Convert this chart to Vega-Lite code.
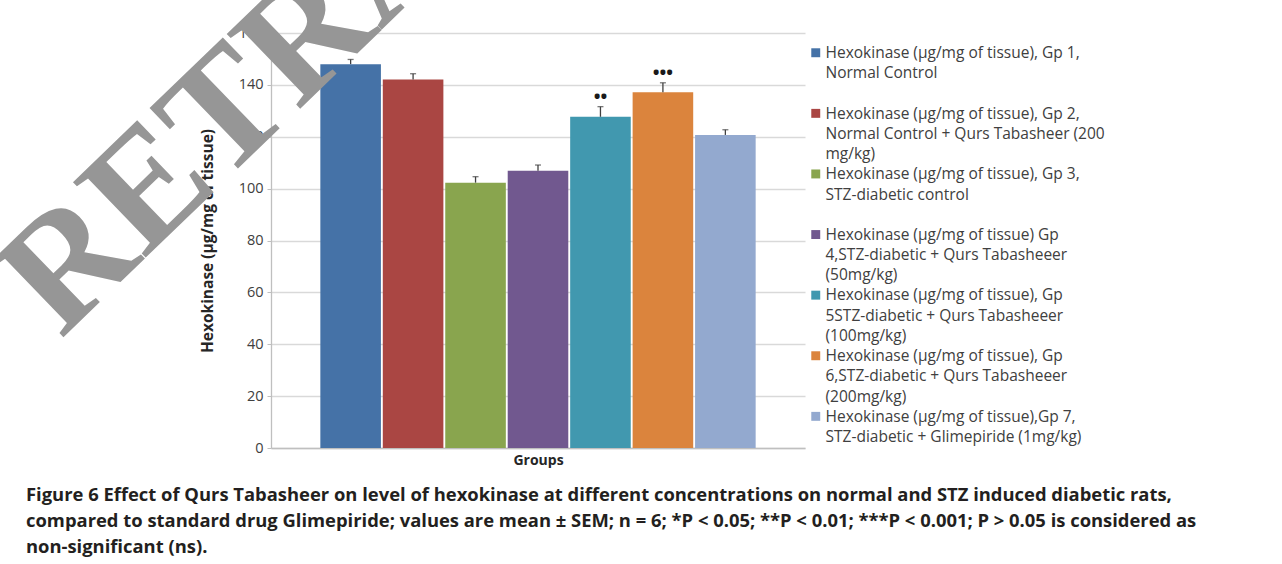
{
  "$schema": "https://vega.github.io/schema/vega-lite/v6.json",
  "autosize": {"type": "none"},
  "width": 534,
  "height": 415,
  "padding": {"left": 271, "top": 33, "right": 477, "bottom": 116},
  "background": "white",
  "config": {
    "view": {"stroke": null},
    "font": "Open Sans",
    "style": {"guide-label": {"lineHeight": 20.3, "dy": -6.7}}
  },
  "title": {
    "text": [
      "Figure 6 Effect of Qurs Tabasheer on level of hexokinase at different concentrations on normal and STZ induced diabetic rats,",
      "compared to standard drug Glimepiride; values are mean ± SEM; n = 6; *P < 0.05; **P < 0.01; ***P < 0.001; P > 0.05 is considered as",
      "non-significant (ns)."
    ],
    "orient": "bottom",
    "anchor": "start",
    "frame": "group",
    "dx": -245,
    "offset": 19,
    "font": "Open Sans",
    "fontSize": 18.4,
    "fontWeight": "bold",
    "color": "#231f20",
    "lineHeight": 26
  },
  "data": {
    "values": [
      {"group": "Gp 1", "label": "Hexokinase (µg/mg of tissue), Gp 1,|Normal Control|", "value": 148.0, "upper": 149.8, "sig": ""},
      {"group": "Gp 2", "label": "Hexokinase (µg/mg of tissue), Gp 2,|Normal Control + Qurs Tabasheer (200|mg/kg)", "value": 142.1, "upper": 144.3, "sig": ""},
      {"group": "Gp 3", "label": "Hexokinase (µg/mg of tissue), Gp 3,|STZ-diabetic control|", "value": 102.3, "upper": 104.6, "sig": ""},
      {"group": "Gp 4", "label": "Hexokinase (µg/mg of tissue) Gp|4,STZ-diabetic + Qurs Tabasheeer|(50mg/kg)", "value": 106.9, "upper": 109.1, "sig": ""},
      {"group": "Gp 5", "label": "Hexokinase (µg/mg of tissue), Gp|5STZ-diabetic + Qurs Tabasheeer|(100mg/kg)", "value": 127.7, "upper": 131.6, "sig": "••"},
      {"group": "Gp 6", "label": "Hexokinase (µg/mg of tissue), Gp|6,STZ-diabetic + Qurs Tabasheeer|(200mg/kg)", "value": 137.2, "upper": 140.8, "sig": "•••"},
      {"group": "Gp 7", "label": "Hexokinase (µg/mg of tissue),Gp 7,|STZ-diabetic + Glimepiride (1mg/kg)|", "value": 120.7, "upper": 122.7, "sig": ""}
    ]
  },
  "encoding": {
    "x": {
      "field": "group",
      "type": "nominal",
      "sort": null,
      "scale": {"paddingInner": 0.03, "paddingOuter": 0.79},
      "axis": {
        "labels": false,
        "ticks": false,
        "domainColor": "#bfbfbf",
        "domainWidth": 1.3,
        "title": "Groups",
        "titleFont": "Open Sans",
        "titleFontSize": 14,
        "titleFontWeight": "bold",
        "titleColor": "#262626",
        "titlePadding": 5
      }
    }
  },
  "layer": [
    {
      "mark": {"type": "bar"},
      "encoding": {
        "y": {
          "field": "value",
          "type": "quantitative",
          "scale": {"domain": [0, 160], "nice": false},
          "axis": {
            "values": [0, 20, 40, 60, 80, 100, 120, 140, 160],
            "title": "Hexokinase (µg/mg of tissue)",
            "titleFont": "Open Sans",
            "titleFontSize": 15.5,
            "titleFontWeight": "bold",
            "titleColor": "#262626",
            "titlePadding": 23,
            "labelFont": "Open Sans",
            "labelFontSize": 14.5,
            "labelColor": "#404040",
            "labelPadding": 4,
            "labelOffset": 6.7,
            "tickSize": 4,
            "tickColor": "#bfbfbf",
            "domainColor": "#bfbfbf",
            "domainWidth": 1.3,
            "gridColor": "#d9d9d9",
            "gridWidth": 1.3
          }
        },
        "color": {
          "field": "label",
          "type": "nominal",
          "sort": null,
          "scale": {"range": ["#4572A7", "#AA4643", "#89A54E", "#71588F", "#4198AF", "#DB843D", "#93A9CF"]},
          "legend": {
            "title": null,
            "orient": "none",
            "legendX": 537,
            "legendY": 12,
            "padding": 0,
            "symbolType": "square",
            "symbolSize": 80,
            "symbolStrokeWidth": 0,
            "symbolOpacity": 1,
            "labelOffset": 2,
            "labelFont": "Open Sans",
            "labelFontSize": 15.5,
            "labelColor": "#404040",
            "labelBaseline": "top",
            "labelLimit": 500,
            "rowPadding": 2.6,
            "labelExpr": "split(datum.label, '|')"
          }
        }
      }
    },
    {
      "mark": {"type": "rule", "color": "#404040", "strokeWidth": 1.3},
      "encoding": {
        "y": {"field": "value", "type": "quantitative"},
        "y2": {"field": "upper"}
      }
    },
    {
      "mark": {"type": "tick", "color": "#404040", "size": 6, "thickness": 1.3},
      "encoding": {
        "y": {"field": "upper", "type": "quantitative"}
      }
    },
    {
      "mark": {"type": "text", "color": "#1a1a1a", "fontSize": 18, "fontWeight": "bold", "dy": -9, "baseline": "middle"},
      "encoding": {
        "y": {"field": "upper", "type": "quantitative"},
        "text": {"field": "sig"}
      }
    },
    {
      "data": {"values": [{"watermark": "RETRACTED"}]},
      "mark": {
        "type": "text",
        "font": "Liberation Serif",
        "fontSize": 160,
        "fontWeight": "bold",
        "color": "#969696",
        "angle": -44,
        "align": "left",
        "baseline": "alphabetic",
        "dx": -403
      },
      "encoding": {
        "x": {"datum": "Gp 1"},
        "y": {"datum": 149.7},
        "text": {"field": "watermark"}
      }
    }
  ]
}
